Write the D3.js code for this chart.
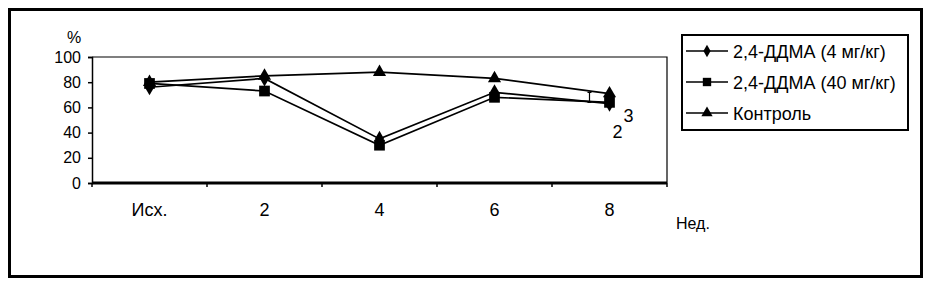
<!DOCTYPE html>
<html>
<head>
<meta charset="utf-8">
<script src="https://cdn.jsdelivr.net/npm/d3@7"></script>
<style>
  body { margin: 0; background: #fff; }
  svg { display: block; font-family: Arial, "Liberation Sans", sans-serif; }
</style>
</head>
<body>
<svg id="chart" width="931" height="286"></svg>
<script>
// data
const weeks = ["Исх.", "2", "4", "6", "8"];
const dose4 = [76, 83, 35, 72, 63];
const dose40 = [79, 73, 30, 68, 64];
const control = [80, 85, 88, 83, 71];
const yTicks = [0, 20, 40, 60, 80, 100];
const seriesNames = ["2,4-ДДМА (4 мг/кг)", "2,4-ДДМА (40 мг/кг)", "Контроль"];

const width = 931, height = 286;
const margin = { left: 92, right: 264, top: 57, bottom: 103 };
const svg = d3.select("#chart");

// outer frame
svg.append("rect")
  .attr("x", 9.5).attr("y", 9.5)
  .attr("width", 912).attr("height", 267)
  .attr("fill", "none").attr("stroke", "#000").attr("stroke-width", 3);

const x = d3.scaleBand()
  .domain(weeks)
  .range([margin.left, width - margin.right])
  .paddingInner(0).paddingOuter(0);

const y = d3.scaleLinear()
  .domain([0, 100])
  .range([height - margin.bottom, margin.top]);

const cx = d => x(d) + x.bandwidth() / 2;

// plot area border (top and right)
svg.append("path")
  .attr("d", `M${margin.left},${y(100)}H${x.range()[1]}V${y(0)}`)
  .attr("fill", "none").attr("stroke", "#000").attr("stroke-width", 1.2);

// y axis
const yAxis = svg.append("g")
  .attr("transform", `translate(${margin.left},0)`)
  .call(d3.axisLeft(y).tickValues(yTicks).tickSize(4).tickPadding(7));
yAxis.select(".domain").attr("stroke-width", 1.5);
yAxis.selectAll(".tick line").attr("stroke-width", 1.5);
yAxis.selectAll("text").attr("font-size", 16).attr("font-family", "Arial, 'Liberation Sans', sans-serif");

// x axis: ticks on band boundaries
const bounds = weeks.map(w => x(w)).concat([x.range()[1]]);
const xg = svg.append("g");
xg.append("line")
  .attr("x1", x.range()[0]).attr("x2", x.range()[1])
  .attr("y1", y(0)).attr("y2", y(0))
  .attr("stroke", "#000").attr("stroke-width", 3);
xg.selectAll(".xt").data(bounds).join("line")
  .attr("x1", d => d).attr("x2", d => d)
  .attr("y1", y(0)).attr("y2", y(0) + 4)
  .attr("stroke", "#000").attr("stroke-width", 1.5);
xg.selectAll(".xl").data(weeks).join("text")
  .attr("x", d => cx(d)).attr("y", 216)
  .attr("text-anchor", "middle").attr("font-size", 18)
  .text(d => d);

svg.append("text").attr("x", 74).attr("y", 43)
  .attr("text-anchor", "middle").attr("font-size", 16).text("%");
svg.append("text").attr("x", 676).attr("y", 229)
  .attr("font-size", 16).text("Нед.");

const line = d3.line().x((d, i) => cx(weeks[i])).y(d => y(d));

const symbols = [d3.symbolDiamond, d3.symbolSquare, d3.symbolTriangle];
const symSizes = [75, 115, 75];
const legSizes = [45, 70, 55];
const all = [dose4, dose40, control];

// lines first, then markers
all.forEach((vals, k) => {
  svg.append("path").datum(vals)
    .attr("d", line)
    .attr("fill", "none").attr("stroke", "#000").attr("stroke-width", 1.7);
});
all.forEach((vals, k) => {
  svg.selectAll(".m" + k).data(vals).join("path")
    .attr("transform", (d, i) => `translate(${cx(weeks[i])},${y(d)})`)
    .attr("d", d3.symbol(symbols[k], symSizes[k]))
    .attr("fill", "#000");
});

// small bracket near week 8 and the curve numbers
const bx = cx("8") - 20;
svg.append("path")
  .attr("d", `M${bx},${y(72)}V${y(64)}M${bx - 2},${y(72)}H${bx + 2}M${bx - 2},${y(64)}H${bx + 2}`)
  .attr("stroke", "#000").attr("stroke-width", 1.2).attr("fill", "none");
svg.append("text").attr("x", cx("8") + 8).attr("y", 138)
  .attr("text-anchor", "middle").attr("font-size", 18).text("2");
svg.append("text").attr("x", cx("8") + 19).attr("y", 122)
  .attr("text-anchor", "middle").attr("font-size", 18).text("3");

// legend
const lg = svg.append("g");
lg.append("rect")
  .attr("x", 682).attr("y", 35).attr("width", 226).attr("height", 95)
  .attr("fill", "#fff").attr("stroke", "#000").attr("stroke-width", 2);
seriesNames.forEach((name, k) => {
  const ly = 51 + k * 31;
  lg.append("line").attr("x1", 686).attr("x2", 728).attr("y1", ly).attr("y2", ly)
    .attr("stroke", "#000").attr("stroke-width", 1.7);
  lg.append("path").attr("transform", `translate(707,${ly})`)
    .attr("d", d3.symbol(symbols[k], legSizes[k]))
    .attr("fill", "#000");
  lg.append("text").attr("x", 733).attr("y", ly + 6.5)
    .attr("font-size", 18).text(name);
});
</script>
</body>
</html>
